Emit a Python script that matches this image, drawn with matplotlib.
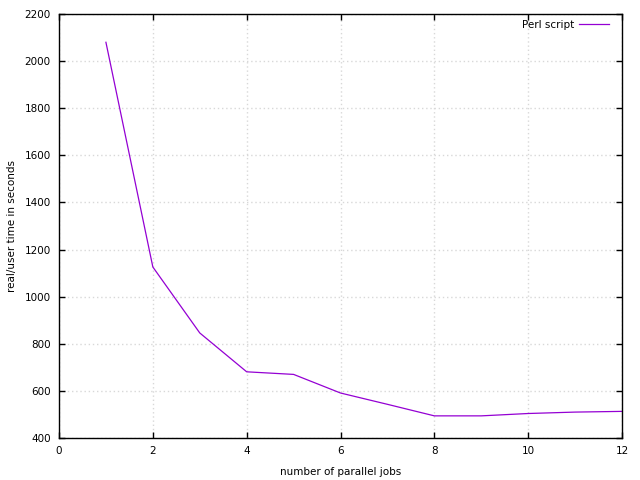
import matplotlib
matplotlib.use("Agg")
import matplotlib.pyplot as plt

jobs = [1, 2, 3, 4, 5, 6, 7, 8, 9, 10, 11, 12]
seconds = [2080, 1126, 846, 681, 670, 591, 543, 494, 494, 504, 510, 513]

plt.rcParams["font.family"] = "DejaVu Sans"
plt.rcParams["font.size"] = 7.5

fig = plt.figure(figsize=(6.4, 4.8), dpi=100)
ax = fig.add_axes([0.0922, 0.0875, 0.8797, 0.8833])

ax.plot(jobs, seconds, color="#9400d3", lw=0.9, label="Perl script")

ax.set_xlim(0, 12)
ax.set_ylim(400, 2200)
ax.set_xticks(range(0, 13, 2))
ax.set_yticks(range(400, 2201, 200))

#gnuplot look: inward ticks on all sides, dotted grid
ax.tick_params(direction="in", top=True, right=True, length=4, width=1, pad=6)
ax.grid(True, linestyle=(0, (1, 2)), color="#d8d8d8", lw=1)
for s in ax.spines.values():
    s.set_linewidth(1)

ax.set_xlabel("number of parallel jobs", labelpad=8)
ax.set_ylabel("real/user time in seconds", labelpad=5)

leg = ax.legend(loc="upper right", frameon=False, handlelength=2.9,
                markerfirst=False, borderaxespad=0.3, borderpad=0.2,
                handletextpad=0.5, bbox_to_anchor=(0.987, 0.998))

fig.savefig("out.png", dpi=100)
